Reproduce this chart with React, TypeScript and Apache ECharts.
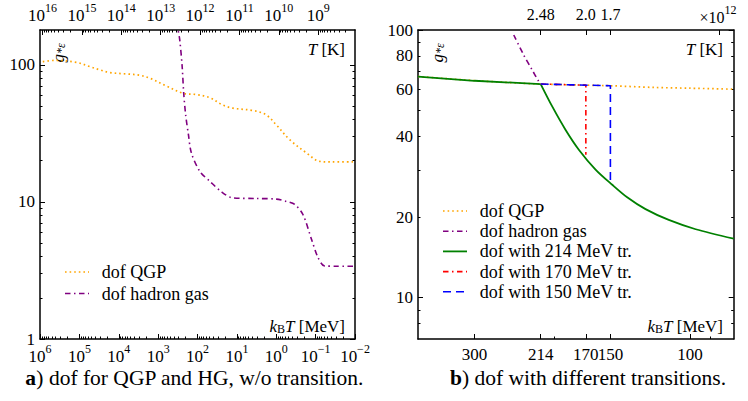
import React, { useEffect, useRef } from 'react';
import * as echarts from 'echarts';

// ---------------- Data ----------------
const seriesNamesA = ['dof QGP', 'dof hadron gas'];
const seriesNamesB = ['dof QGP', 'dof hadron gas', 'dof with 214 MeV tr.', 'dof with 170 MeV tr.', 'dof with 150 MeV tr.'];

// Panel a: k_B T [MeV] and g*eps
const qgpA_T = [8.5e5, 4.2e5, 1.2e5, 5.4e4, 3.0e4, 1.66e4, 6300, 2950, 1620, 617, 234, 107, 49, 22.4, 12.6, 3.9, 1.82, 1.0, 0.457, 0.17, 0.079, 0.04, 0.01];
const qgpA_g = [105.7, 108, 104.6, 97.3, 92, 88, 86, 84.2, 80, 70.3, 62.2, 60.8, 57.8, 50.9, 48.4, 46.5, 43.3, 36.6, 28.5, 22.8, 19.8, 19.6, 19.6];
const hgA_T = [330, 313, 282, 245, 224, 200, 170, 143, 87, 49, 25, 12.6, 3.2, 1.0, 0.56, 0.34, 0.21, 0.126, 0.087, 0.059, 0.03, 0.01];
const hgA_g = [205, 182, 152, 97, 62.2, 43.3, 31, 22.8, 16.7, 14.2, 11.9, 10.7, 10.6, 10.5, 10.1, 9.6, 8.1, 5.3, 3.93, 3.41, 3.4, 3.4];

// Panel b
const qgpB_T = [400, 300, 214, 170, 150, 120, 100, 80];
const qgpB_g = [67.0, 64.7, 62.8, 62.2, 61.9, 61.0, 60.6, 60.1];
const hgB_T = [245.5, 233.4, 223.6, 216.6, 214];
const hgB_g = [95.8, 80.7, 71.0, 64.6, 62.8];
const tr214pre_T = [400, 300, 214];
const tr214pre_g = [67.0, 64.6, 62.8];
const tr214post_T = [214, 201.8, 188.6, 176.2, 161.8, 148.6, 137.7, 125.4, 111.4, 97.1, 80];
const tr214post_g = [62.8, 51.8, 42.4, 35.7, 30.1, 26.4, 23.7, 21.4, 19.5, 18.0, 16.6];
const tr170_T = [214, 170, 170];
const tr170_g = [62.8, 62.2, 34.2];
const tr150_T = [214, 150, 150];
const tr150_g = [62.8, 61.9, 27.0];

// Axes / ticks
const K_PER_MEV = 1.16045e10;
const rangeA_T = [0.01, 1e6];
const rangeA_g = [1, 180];
const rangeB_T = [80, 400];
const rangeB_g = [7, 100];
const ticksA_bottomExp = [-2, -1, 0, 1, 2, 3, 4, 5, 6];
const ticksA_topExp = [9, 10, 11, 12, 13, 14, 15, 16];
const ticksA_yMajor = [1, 10, 100];
const ticksB_bottom = [300, 214, 170, 150, 100];
const ticksB_bottomMinor = [200, 90];
const ticksB_top_MeV = [214, 170, 150, 86.17];
const ticksB_top_labels = ['2.48', '2.0', '1.7', ''];
const ticksB_yLabels = [10, 20, 40, 60, 80, 100];
const ticksB_yMajor = [10, 100];
const ticksB_yMinor = [8, 9, 20, 30, 40, 50, 60, 70, 80, 90];

// ---------------- Helpers ----------------
const L10 = Math.log10;
const FONT = 'Liberation Serif';
const BLACK = '#000';

function logMinor(n0: number, n1: number, lo: number, hi: number): number[] {
  const out: number[] = [];
  for (let n = n0; n <= n1; n++) {
    for (let m = 2; m <= 9; m++) {
      const v = L10(m) + n;
      if (v > lo && v < hi) out.push(v);
    }
  }
  return out;
}

const powRich = {
  b: { fontFamily: FONT, fontSize: 17, lineHeight: 20, verticalAlign: 'bottom', color: BLACK },
  s: { fontFamily: FONT, fontSize: 12, lineHeight: 12, padding: [0, 0, 10, 0], verticalAlign: 'bottom', color: BLACK },
};
const powLabel = (v: number) => `{b|10}{s|${String(Math.round(v)).replace('-', '\u2212')}}`;

type AxOpt = {
  grid: number; pos: string; min: number; max: number; inverse?: boolean;
  line?: boolean; ticks: number[]; tickLen: number;
  labels?: number[]; fmt?: (v: number) => string; rich?: any; margin?: number; fontSize?: number;
};
function axis(o: AxOpt) {
  return {
    type: 'value',
    gridIndex: o.grid,
    position: o.pos,
    min: o.min,
    max: o.max,
    inverse: !!o.inverse,
    axisLine: { show: !!o.line, onZero: false, lineStyle: { color: BLACK, width: 1.5 } },
    axisTick: { show: true, inside: true, length: o.tickLen, customValues: o.ticks, lineStyle: { color: BLACK, width: 1 } },
    axisLabel: o.labels
      ? { show: true, customValues: o.labels, formatter: o.fmt, rich: o.rich, margin: o.margin ?? 6, color: BLACK, fontFamily: FONT, fontSize: o.fontSize ?? 17, hideOverlap: false }
      : { show: false },
    splitLine: { show: false },
    minorTick: { show: false },
  };
}

const pts = (T: number[], g: number[]) => T.map((t, i) => [L10(t), L10(g[i])]);

function lineSeries(name: string, T: number[], g: number[], xi: number, yi: number, color: string, type: any, width: number, smooth: number | boolean, z: number) {
  return {
    type: 'line', name, xAxisIndex: xi, yAxisIndex: yi, data: pts(T, g),
    symbol: 'none', showSymbol: false, smooth, clip: true, silent: true, z,
    lineStyle: { color, width, type, cap: 'butt', join: 'round' },
  };
}

const ORANGE = '#FFA500';
const PURPLE = '#800080';
const GREEN = '#008000';
const RED = '#FF0000';
const BLUE = '#0000FF';
const DOT = [1.6, 3.0];
const DASHDOT = [5.5, 3.5, 1.5, 3.5];
const DASH = [8, 5];

const rt = (size: number, italic = false, extra: any = {}) => ({ fontFamily: FONT, fontSize: size, fontStyle: italic ? 'italic' : 'normal', color: BLACK, lineHeight: 20, verticalAlign: 'bottom', ...extra });
const labelRich = {
  i: rt(17, true),
  r: rt(17),
  sub: rt(12, false, { lineHeight: 12 }),
  subi: rt(12, true, { lineHeight: 12 }),
};

function textEl(x: number, y: number, text: string, align = 'left', rotation = 0, rich: any = labelRich) {
  return { type: 'text', x, y, rotation, silent: true, style: { text, rich, align, verticalAlign: 'middle', fontFamily: FONT, fontSize: 17, fill: BLACK } };
}

function legendRows(x0: number, x1: number, tx: number, y0: number, dy: number, names: string[], styles: { c: string; d: any; w: number }[]) {
  const els: any[] = [];
  names.forEach((n, i) => {
    const y = y0 + i * dy;
    els.push({ type: 'line', silent: true, shape: { x1: x0, y1: y, x2: x1, y2: y }, style: { stroke: styles[i].c, lineWidth: styles[i].w, lineDash: styles[i].d === 'solid' ? null : styles[i].d, lineCap: 'butt' } });
    els.push({ type: 'text', x: tx, y, silent: true, style: { text: n, fontFamily: FONT, fontSize: 18, fill: BLACK, align: 'left', verticalAlign: 'middle' } });
  });
  return els;
}

function buildOption() {
  const aKmin = L10(rangeA_T[0] * K_PER_MEV);
  const aKmax = L10(rangeA_T[1] * K_PER_MEV);
  const aX: [number, number] = [L10(rangeA_T[0]), L10(rangeA_T[1])];
  const aY: [number, number] = [L10(rangeA_g[0]), L10(rangeA_g[1])];
  const bX: [number, number] = [L10(rangeB_T[0]), L10(rangeB_T[1])];
  const bY: [number, number] = [L10(rangeB_g[0]), L10(rangeB_g[1])];

  const xAxis = [
    axis({ grid: 0, pos: 'bottom', min: aX[0], max: aX[1], inverse: true, line: true, ticks: ticksA_bottomExp, tickLen: 5, labels: ticksA_bottomExp, fmt: powLabel, rich: powRich, margin: 6 }),
    axis({ grid: 0, pos: 'bottom', min: aX[0], max: aX[1], inverse: true, ticks: logMinor(-2, 5, aX[0], aX[1]), tickLen: 2.5 }),
    axis({ grid: 0, pos: 'top', min: aKmin, max: aKmax, inverse: true, line: true, ticks: ticksA_topExp, tickLen: 5, labels: ticksA_topExp, fmt: powLabel, rich: powRich, margin: 6 }),
    axis({ grid: 0, pos: 'top', min: aKmin, max: aKmax, inverse: true, ticks: logMinor(8, 16, aKmin, aKmax), tickLen: 2.5 }),
    axis({ grid: 1, pos: 'bottom', min: bX[0], max: bX[1], inverse: true, line: true, ticks: ticksB_bottom.map(L10), tickLen: 5, labels: ticksB_bottom.map(L10), fmt: (v: number) => String(Math.round(10 ** v)), margin: 7, fontSize: 17 }),
    axis({ grid: 1, pos: 'bottom', min: bX[0], max: bX[1], inverse: true, ticks: ticksB_bottomMinor.map(L10), tickLen: 2.5 }),
    axis({
      grid: 1, pos: 'top', min: bX[0], max: bX[1], inverse: true, line: true, ticks: ticksB_top_MeV.map(L10), tickLen: 5,
      labels: ticksB_top_MeV.slice(0, 3).map(L10),
      fmt: (v: number) => {
        const i = ticksB_top_MeV.findIndex((t) => Math.abs(L10(t) - v) < 1e-6);
        return i >= 0 ? ticksB_top_labels[i] : '';
      },
      margin: 8, fontSize: 16,
    }),
  ];

  const yAxis = [
    axis({ grid: 0, pos: 'left', min: aY[0], max: aY[1], line: true, ticks: ticksA_yMajor.map(L10), tickLen: 5, labels: ticksA_yMajor.map(L10), fmt: (v: number) => String(Math.round(10 ** v)), margin: 5 }),
    axis({ grid: 0, pos: 'left', min: aY[0], max: aY[1], ticks: logMinor(0, 2, aY[0], aY[1]), tickLen: 2.5 }),
    axis({ grid: 0, pos: 'right', min: aY[0], max: aY[1], line: true, ticks: ticksA_yMajor.map(L10), tickLen: 5 }),
    axis({ grid: 0, pos: 'right', min: aY[0], max: aY[1], ticks: logMinor(0, 2, aY[0], aY[1]), tickLen: 2.5 }),
    axis({ grid: 1, pos: 'left', min: bY[0], max: bY[1], line: true, ticks: ticksB_yMajor.map(L10), tickLen: 5, labels: ticksB_yLabels.map(L10), fmt: (v: number) => String(Math.round(10 ** v)), margin: 5, fontSize: 17 }),
    axis({ grid: 1, pos: 'left', min: bY[0], max: bY[1], ticks: ticksB_yMinor.map(L10), tickLen: 2.5 }),
    axis({ grid: 1, pos: 'right', min: bY[0], max: bY[1], line: true, ticks: ticksB_yMajor.map(L10), tickLen: 5 }),
    axis({ grid: 1, pos: 'right', min: bY[0], max: bY[1], ticks: ticksB_yMinor.map(L10), tickLen: 2.5 }),
  ];

  const series = [
    lineSeries(seriesNamesA[0], qgpA_T, qgpA_g, 0, 0, ORANGE, DOT, 1.7, 0.35, 2),
    lineSeries(seriesNamesA[1], hgA_T, hgA_g, 0, 0, PURPLE, DASHDOT, 1.6, 0.3, 3),
    lineSeries(seriesNamesB[0], qgpB_T, qgpB_g, 4, 4, ORANGE, DOT, 1.7, 0.3, 2),
    lineSeries(seriesNamesB[1], hgB_T, hgB_g, 4, 4, PURPLE, DASHDOT, 1.6, 0.3, 3),
    lineSeries(seriesNamesB[2], tr214pre_T, tr214pre_g, 4, 4, GREEN, 'solid', 1.8, false, 4),
    lineSeries(seriesNamesB[2], tr214post_T, tr214post_g, 4, 4, GREEN, 'solid', 1.8, 0.3, 4),
    lineSeries(seriesNamesB[3], tr170_T, tr170_g, 4, 4, RED, DASHDOT, 1.6, false, 5),
    lineSeries(seriesNamesB[4], tr150_T, tr150_g, 4, 4, BLUE, DASH, 1.6, false, 6),
  ];

  const styleList = [
    { c: ORANGE, d: DOT, w: 1.7 },
    { c: PURPLE, d: DASHDOT, w: 1.6 },
    { c: GREEN, d: 'solid', w: 1.8 },
    { c: RED, d: DASHDOT, w: 1.6 },
    { c: BLUE, d: DASH, w: 1.6 },
  ];

  const graphic: any[] = [
    textEl(345, 48, '{i|T}{r| [K]}', 'right'),
    textEl(723, 48, '{i|T}{r| [K]}', 'right'),
    textEl(345, 325, '{i|k}{sub|B}{i|T}{r| [MeV]}', 'right'),
    textEl(723, 325, '{i|k}{sub|B}{i|T}{r| [MeV]}', 'right'),
    textEl(57, 53, '{i|g}{subi|*\u03b5}', 'center', Math.PI / 2),
    textEl(436, 53, '{i|g}{subi|*\u03b5}', 'center', Math.PI / 2),
    textEl(718, 15, '{r|\u00d710}{s|12}', 'center', 0, { r: rt(16), s: rt(12, false, { lineHeight: 12, padding: [0, 0, 9, 0] }) }),
    textEl(194.5, 379, '{b|a}{r|) dof for QGP and HG, w/o transition.}', 'center', 0, { b: rt(21.5, false, { fontWeight: 'bold' }), r: rt(21.5) }),
    textEl(588, 379, '{b|b}{r|) dof with different transitions.}', 'center', 0, { b: rt(21.5, false, { fontWeight: 'bold' }), r: rt(21.5) }),
    ...legendRows(65, 89, 101.7, 272, 21.5, seriesNamesA, styleList.slice(0, 2)),
    ...legendRows(443, 467, 479.7, 211, 20.2, seriesNamesB, styleList),
  ];

  return {
    animation: false,
    backgroundColor: '#fff',
    grid: [
      { left: 40, top: 30, width: 315, height: 309, outerBoundsMode: 'none', containLabel: false },
      { left: 418, top: 30, width: 315.7, height: 309, outerBoundsMode: 'none', containLabel: false },
    ],
    xAxis,
    yAxis,
    series,
    graphic,
  };
}

export default function App() {
  const ref = useRef<HTMLDivElement>(null);
  useEffect(() => {
    document.body.style.margin = '0';
    const chart = echarts.init(ref.current as HTMLDivElement, null, { renderer: 'svg', width: 748, height: 401 });
    chart.setOption(buildOption() as any);
    return () => chart.dispose();
  }, []);
  return <div ref={ref} style={{ width: 748, height: 401, position: 'absolute', left: 0, top: 0, background: '#fff' }} />;
}
